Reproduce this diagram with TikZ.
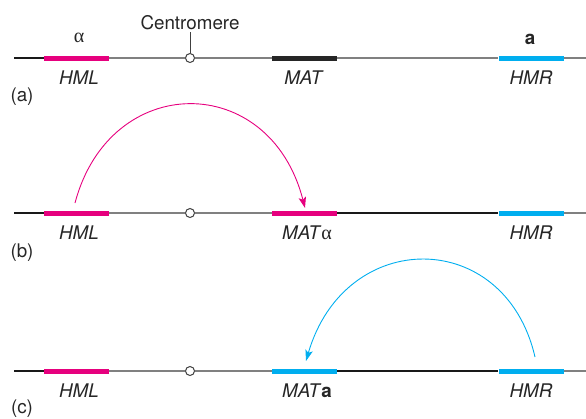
\documentclass[tikz,border=0pt]{standalone}
\usepackage{fontspec}
\setmainfont{TeX Gyre Heros}
\newfontfamily\greekfont{Liberation Serif}
\usetikzlibrary{arrows.meta}
\definecolor{hmlpink}{HTML}{E6007E}
\definecolor{hmrblue}{HTML}{00AEEF}
\definecolor{chromgray}{HTML}{808080}
\newcommand{\alphasym}{{\greekfont\fontsize{20}{22}\selectfont α}}
\begin{document}
\begin{tikzpicture}[
    x=1pt, y=-1pt,
    font=\fontsize{18.8}{22}\selectfont,
    gene/.style={
        inner sep=0pt,
        minimum width=65pt,
        minimum height=5pt
    },
    cen/.style={circle, draw=black!75, fill=white, line width=1pt,
        minimum size=9pt, inner sep=0pt},
    thinchrom/.style={chromgray, line width=1.4pt},
    darkchrom/.style={black!90, line width=2.2pt},
    lbl/.style={inner sep=0pt, text=black!85},
    switch/.style={-{Stealth[length=11pt,width=7.5pt,inset=2.5pt]}, line width=0.9pt}
]
\useasboundingbox (0,0) rectangle (586,418);

%==========================
% (a)
%==========================
\coordinate (endlA) at (14,58);
\coordinate (endrA) at (586,58);
\node[gene, fill=hmlpink] (hmlA) at (76.5,58) {};
\node[cen] (cenA) at (190,58) {};
\node[gene, fill=black!85] (matA) at (304.5,58) {};
\node[gene, fill=hmrblue] (hmrA) at (531,58) {};
\draw[darkchrom] (endlA) -- (hmlA.west);
\draw[thinchrom] (hmlA.east) -- (cenA);
\draw[thinchrom] (cenA) -- (matA.west);
\draw[thinchrom] (matA.east) -- (hmrA.west);
\draw[thinchrom] (hmrA.east) -- (endrA);

\node[lbl, inner sep=2pt] (cenlbl) at (190,22.5) {Centromere};
\draw[black!75, line width=1pt] (cenA) -- (cenlbl);

\node[lbl] (alphaA) at (79,38) {\alphasym};
\node[lbl] (aA) at (530,39.5) {\textbf{a}};
\node[lbl] (hmlAl) at (79,77.5) {\textit{HML}};
\node[lbl] (matAl) at (304,77.5) {\textit{MAT}};
\node[lbl] (hmrAl) at (531,77.5) {\textit{HMR}};
\node[lbl] (pa) at (22,97) {(a)};

%==========================
% (b)
%==========================
\coordinate (endlB) at (14,213);
\coordinate (endrB) at (586,213);
\node[gene, fill=hmlpink] (hmlB) at (76.5,213) {};
\node[cen] (cenB) at (190,213) {};
\node[gene, fill=hmlpink] (matB) at (304.5,213) {};
\node[gene, fill=hmrblue] (hmrB) at (531,213) {};
\draw[darkchrom] (endlB) -- (hmlB.west);
\draw[thinchrom] (hmlB.east) -- (cenB);
\draw[thinchrom] (cenB) -- (matB.west);
\draw[darkchrom] (matB.east) -- (hmrB.west);
\draw[thinchrom] (hmrB.east) -- (endrB);

\node[lbl] (hmlBl) at (79,232.5) {\textit{HML}};
\node[lbl] (matBl) at (307,232.5) {\textit{MAT}\alphasym};
\node[lbl] (hmrBl) at (531,232.5) {\textit{HMR}};
\node[lbl] (pb) at (22,253) {(b)};

\coordinate (fromB) at (75,203);
\coordinate (toB) at (305,208);
\draw[switch, hmlpink] (fromB) .. controls (110,71) and (270,71) .. (toB);

%==========================
% (c)
%==========================
\coordinate (endlC) at (14,371);
\coordinate (endrC) at (586,371);
\node[gene, fill=hmlpink] (hmlC) at (76.5,371) {};
\node[cen] (cenC) at (190,371) {};
\node[gene, fill=hmrblue] (matC) at (304.5,371) {};
\node[gene, fill=hmrblue] (hmrC) at (531,371) {};
\draw[darkchrom] (endlC) -- (hmlC.west);
\draw[thinchrom] (hmlC.east) -- (cenC);
\draw[thinchrom] (cenC) -- (matC.west);
\draw[darkchrom] (matC.east) -- (hmrC.west);
\draw[thinchrom] (hmrC.east) -- (endrC);

\node[lbl] (hmlCl) at (79,390.5) {\textit{HML}};
\node[lbl] (matCl) at (307,390.5) {\textit{MAT}\textbf{a}};
\node[lbl] (hmrCl) at (531,390.5) {\textit{HMR}};
\node[lbl] (pc) at (22,409) {(c)};

\coordinate (fromC) at (535,357);
\coordinate (toC) at (306,361);
\draw[switch, hmrblue] (fromC) .. controls (505,227) and (345,227) .. (toC);

\end{tikzpicture}
\end{document}
